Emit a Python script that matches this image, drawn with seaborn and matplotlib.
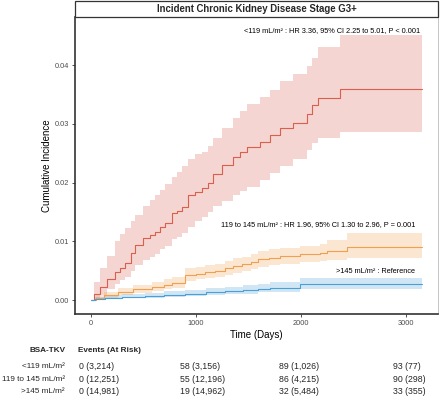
import numpy as np
import pandas as pd
import matplotlib
matplotlib.use("Agg")
import matplotlib.pyplot as plt
from matplotlib.patches import Rectangle
import seaborn as sns

# ---------------- data ----------------
groups = ["<119 mL/m²", "119 to 145 mL/m²", ">145 mL/m²"]
end_day = 3150

t_r = [0, 30, 86, 150, 229, 280, 324, 380, 419, 495, 560, 610, 660, 705, 771, 820, 867, 924, 990,
       1057, 1110, 1162, 1250, 1352, 1420, 1486, 1610, 1705, 1800, 1924, 2057, 2105, 2162, 2371]
est_r = [0, 0.0010, 0.0022, 0.0035, 0.0048, 0.0055, 0.0063, 0.0080, 0.0094, 0.0106, 0.0111, 0.0116,
         0.0124, 0.0131, 0.0148, 0.0152, 0.0158, 0.0179, 0.0184, 0.0191, 0.0200, 0.0215, 0.0230,
         0.0243, 0.0252, 0.0260, 0.0269, 0.0281, 0.0293, 0.0301, 0.0316, 0.0332, 0.0344, 0.0359]
hi_r = [0, 0.0030, 0.0055, 0.0075, 0.0100, 0.0112, 0.0122, 0.0135, 0.0145, 0.0160, 0.0170, 0.0178,
        0.0188, 0.0197, 0.0210, 0.0218, 0.0228, 0.0240, 0.0248, 0.0252, 0.0262, 0.0275, 0.0292,
        0.0310, 0.0322, 0.0333, 0.0345, 0.0357, 0.0372, 0.0385, 0.0398, 0.0412, 0.0430, 0.0451]
lo_r = [0, 0.0002, 0.0008, 0.0018, 0.0028, 0.0034, 0.0040, 0.0050, 0.0060, 0.0068, 0.0074, 0.0079,
        0.0086, 0.0092, 0.0104, 0.0108, 0.0114, 0.0124, 0.0135, 0.0142, 0.0150, 0.0160, 0.0168,
        0.0178, 0.0186, 0.0192, 0.0205, 0.0216, 0.0228, 0.0240, 0.0255, 0.0268, 0.0276, 0.0286]

t_o = [0, 50, 120, 257, 400, 580, 700, 771, 895, 1000, 1086, 1180, 1276, 1350, 1438, 1520, 1590,
       1700, 1800, 1990, 2180, 2248, 2438]
est_o = [0, 0.0004, 0.0008, 0.0014, 0.0019, 0.0023, 0.0026, 0.0029, 0.0043, 0.0045, 0.0047, 0.0050,
         0.0054, 0.0058, 0.0061, 0.0065, 0.0069, 0.0072, 0.0075, 0.0078, 0.0080, 0.0084, 0.0091]
hi_o = [0, 0.0008, 0.0014, 0.0021, 0.0026, 0.0031, 0.0035, 0.0039, 0.0054, 0.0056, 0.0059, 0.0062,
        0.0066, 0.0071, 0.0074, 0.0078, 0.0083, 0.0086, 0.0089, 0.0092, 0.0096, 0.0102, 0.0114]
lo_o = [0, 0.0001, 0.0004, 0.0009, 0.0012, 0.0015, 0.0018, 0.0021, 0.0033, 0.0035, 0.0037, 0.0039,
        0.0043, 0.0046, 0.0049, 0.0052, 0.0056, 0.0059, 0.0062, 0.0065, 0.0066, 0.0068, 0.0072]

t_b = [0, 40, 133, 300, 514, 700, 895, 1100, 1276, 1450, 1590, 1705, 1990]
est_b = [0, 0.0002, 0.0004, 0.0005, 0.0007, 0.0009, 0.0011, 0.0013, 0.0015, 0.0017, 0.0019, 0.0021, 0.0027]
hi_b = [0, 0.0005, 0.0008, 0.0010, 0.0012, 0.0015, 0.0017, 0.0020, 0.0022, 0.0025, 0.0028, 0.0030, 0.0038]
lo_b = [0, 0.0000, 0.0002, 0.0003, 0.0004, 0.0005, 0.0007, 0.0008, 0.0010, 0.0011, 0.0013, 0.0014, 0.0018]

annotations = ["<119 mL/m² : HR 3.36, 95% CI 2.25 to 5.01, P < 0.001",
               "119 to 145 mL/m² : HR 1.96, 95% CI 1.30 to 2.96, P = 0.001",
               ">145 mL/m² : Reference"]

table_header = ["BSA-TKV", "Events (At Risk)"]
table_rows = [["0 (3,214)", "58 (3,156)", "89 (1,026)", "93 (77)"],
              ["0 (12,251)", "55 (12,196)", "86 (4,215)", "90 (298)"],
              ["0 (14,981)", "19 (14,962)", "32 (5,484)", "33 (355)"]]

title = "Incident Chronic Kidney Disease Stage G3+"
xlabel = "Time (Days)"
ylabel = "Cumulative Incidence"
xticks = [0, 1000, 2000, 3000]
yticks = [0.00, 0.01, 0.02, 0.03, 0.04]

colors = {groups[0]: "#D9604F", groups[1]: "#F0A050", groups[2]: "#4A9FD8"}

# ---------------- build frames ----------------
series = [(groups[0], t_r, est_r, lo_r, hi_r),
          (groups[1], t_o, est_o, lo_o, hi_o),
          (groups[2], t_b, est_b, lo_b, hi_b)]
frames = []
for g, t, e, lo, hi in series:
    frames.append(pd.DataFrame({"time": list(t) + [end_day], "est": list(e) + [e[-1]],
                                "lo": list(lo) + [lo[-1]], "hi": list(hi) + [hi[-1]], "group": g}))
df = pd.concat(frames, ignore_index=True)

# ---------------- plot ----------------
sns.set_theme(style="white")
plt.rcParams["font.family"] = ["Liberation Sans", "DejaVu Sans"]

W, H = 440, 403
fig = plt.figure(figsize=(W / 100, H / 100), dpi=100)
L, R, T, B = 75, 438, 17, 314
ax = fig.add_axes([L / W, 1 - B / H, (R - L) / W, (B - T) / H])

for g in groups:
    d = df[df["group"] == g]
    ax.fill_between(d["time"], d["lo"], d["hi"], step="post", color=colors[g], alpha=0.26, lw=0)

sns.lineplot(data=df, x="time", y="est", hue="group", palette=colors, hue_order=groups,
             drawstyle="steps-post", estimator=None, legend=False, lw=0.8, ax=ax)

ax.set_xlim(-152, 3305)
ax.set_ylim(-0.00238, 0.04817)
ax.set_xticks(xticks)
ax.set_xticklabels([str(v) for v in xticks])
ax.set_yticks(yticks)
ax.set_yticklabels([f"{v:.2f}" for v in yticks])
ax.tick_params(axis="both", which="both", length=2.5, width=0.6, color="#333333",
               labelsize=5.3, labelcolor="#4D4D4D", pad=1.5, direction="out")
ax.tick_params(bottom=True, left=True)
ax.set_xlabel(xlabel, fontsize=7, color="black", labelpad=2.5)
ax.set_ylabel(ylabel, fontsize=7, color="black")
ax.yaxis.set_label_coords(-0.063, 0.5)

for s in ["left", "bottom"]:
    ax.spines[s].set_color("#333333")
    ax.spines[s].set_linewidth(1.2)
ax.spines["right"].set_color("#BBBBBB")
ax.spines["right"].set_linewidth(0.6)
ax.spines["top"].set_visible(False)

# strip title
fig.patches.append(Rectangle((L / W, 1 - T / H), (R - L) / W, (T - 1) / H,
                             transform=fig.transFigure, facecolor="white",
                             edgecolor="#333333", lw=0.9))
fig.text((L + R) / 2 / W, 1 - 9.2 / H, title, ha="center", va="center",
         fontsize=6.9, fontweight="bold")

# annotations
ann_pos = [(420, 30.5), (415, 224.5), (415, 271.5)]
for txt, (x, y) in zip(annotations, ann_pos):
    fig.text(x / W, 1 - y / H, txt, ha="right", va="center", fontsize=5.3, color="black")

# risk table
fig.text(65 / W, 1 - 351 / H, table_header[0], ha="right", va="center", fontsize=5.9, fontweight="bold")
fig.text(78 / W, 1 - 351 / H, table_header[1], ha="left", va="center", fontsize=5.9, fontweight="bold")
row_y = [366.7, 379.2, 391.7]
col_x = [79, 180, 279, 393]
for g, y, row in zip(groups, row_y, table_rows):
    fig.text(65 / W, 1 - y / H, g, ha="right", va="center", fontsize=5.9)
    for x, cell in zip(col_x, row):
        fig.text(x / W, 1 - y / H, cell, ha="left", va="center", fontsize=6.3)

fig.savefig("out.png", dpi=100)
